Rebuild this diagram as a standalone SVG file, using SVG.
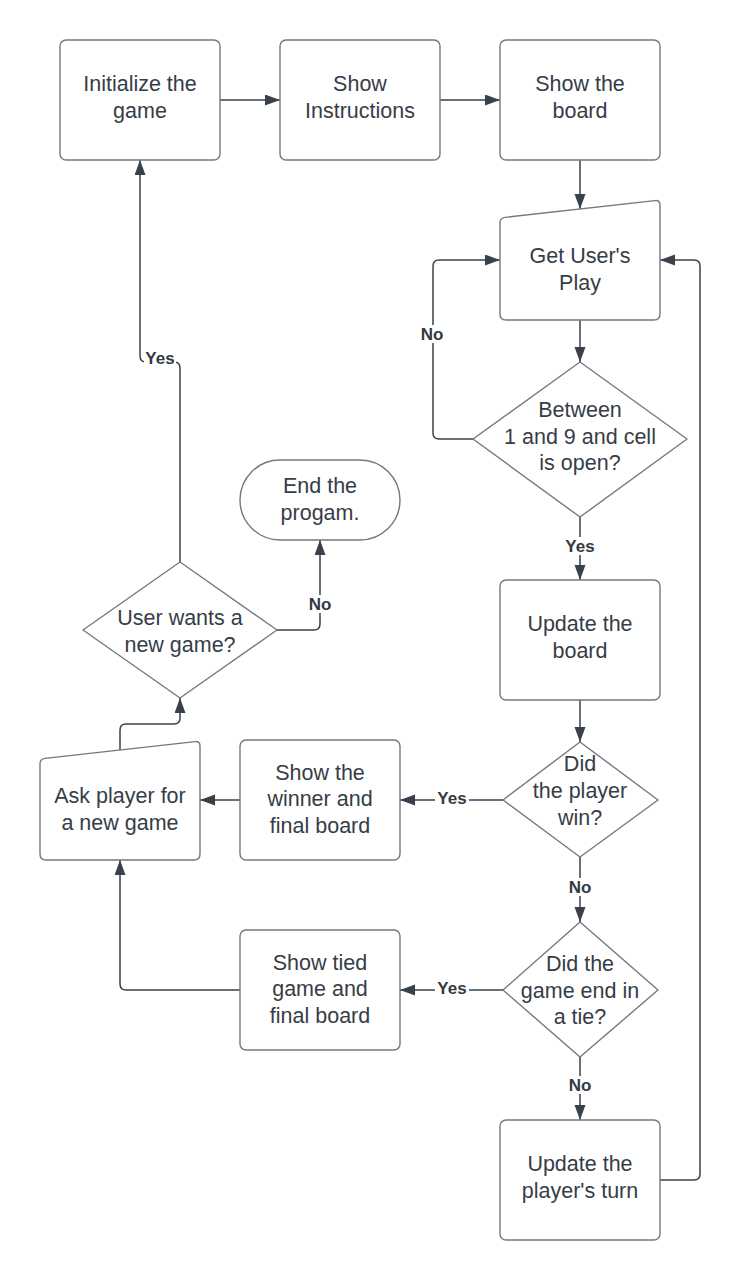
<svg xmlns="http://www.w3.org/2000/svg" width="741" height="1280" viewBox="0 0 741 1280">
<defs>
<marker id="arr" markerUnits="userSpaceOnUse" markerWidth="16" markerHeight="12" refX="15" refY="5.5" orient="auto">
<path d="M0,0 L15,5.5 L0,11 Z" fill="#3a414a"/>
</marker>
</defs>
<style>
.shape{fill:#ffffff;stroke:#75787d;stroke-width:1.4;stroke-linejoin:round}
.t{font-family:"Liberation Sans",Arial,sans-serif;font-size:21.5px;fill:#363d47;text-anchor:middle}
.c{fill:none;stroke:#3a414a;stroke-width:1.5;marker-end:url(#arr)}
.lb{font-family:"Liberation Sans",Arial,sans-serif;font-size:17px;font-weight:bold;fill:#333a44;text-anchor:middle}
.bg{fill:#ffffff}
</style>
<rect width="741" height="1280" fill="#ffffff"/>

<g id="connectors">
<path class="c" d="M220,100 H280"/>
<path class="c" d="M440,100 H500"/>
<path class="c" d="M580,160 V209"/>
<path class="c" d="M580,320 V362"/>
<path class="c" d="M473,439 H439 Q433,439 433,433 V266 Q433,260 439,260 H500"/>
<path class="c" d="M580,517 V580"/>
<path class="c" d="M580,700 V742"/>
<path class="c" d="M503,800 H400"/>
<path class="c" d="M580,857 V922"/>
<path class="c" d="M503,990 H400"/>
<path class="c" d="M580,1057 V1120"/>
<path class="c" d="M660,1180 H694 Q700,1180 700,1174 V266 Q700,260 694,260 H660"/>
<path class="c" d="M240,800 H200"/>
<path class="c" d="M240,990 H126 Q120,990 120,984 V860"/>
<path class="c" d="M120,750 V730 Q120,724 126,724 H174 Q180,724 180,718 V698"/>
<path class="c" d="M180,562 V368 Q180,362 174,362 H146 Q140,362 140,356 V160"/>
<path class="c" d="M277,630 H314 Q320,630 320,624 V540"/>
<g id="labels">
<rect class="bg" x="419" y="325" width="26" height="18"/>
<text class="lb" x="432" y="340">No</text>
<rect class="bg" x="563" y="537" width="34" height="18"/>
<text class="lb" x="580" y="552">Yes</text>
<rect class="bg" x="435" y="789" width="34" height="18"/>
<text class="lb" x="452" y="804">Yes</text>
<rect class="bg" x="567" y="878" width="26" height="18"/>
<text class="lb" x="580" y="893">No</text>
<rect class="bg" x="435" y="979" width="34" height="18"/>
<text class="lb" x="452" y="994">Yes</text>
<rect class="bg" x="567" y="1076" width="26" height="18"/>
<text class="lb" x="580" y="1091">No</text>
<rect class="bg" x="144" y="349" width="32" height="18"/>
<text class="lb" x="160" y="364">Yes</text>
<rect class="bg" x="307" y="595" width="26" height="18"/>
<text class="lb" x="320" y="610">No</text>
</g>
</g>

<g id="init">
<rect class="shape" x="60" y="40" width="160" height="120" rx="6"/>
<text class="t" x="140" y="90.5">Initialize the</text>
<text class="t" x="140" y="117.5">game</text>
</g>
<g id="instructions">
<rect class="shape" x="280" y="40" width="160" height="120" rx="6"/>
<text class="t" x="360" y="90.5">Show</text>
<text class="t" x="360" y="117.5">Instructions</text>
</g>
<g id="showboard">
<rect class="shape" x="500" y="40" width="160" height="120" rx="6"/>
<text class="t" x="580" y="90.5">Show the</text>
<text class="t" x="580" y="117.5">board</text>
</g>
<g id="getplay">
<path class="shape" d="M500,223 Q500,218 505,217.4 L655,200.6 Q660,200 660,205 V314 Q660,320 654,320 H506 Q500,320 500,314 Z"/>
<text class="t" x="580" y="262.5">Get User's</text>
<text class="t" x="580" y="289.5">Play</text>
</g>
<g id="valid">
<polygon class="shape" points="580,362 687,439 580,517 473,439"/>
<text class="t" x="580" y="416.5">Between</text>
<text class="t" x="580" y="443.5">1 and 9 and cell</text>
<text class="t" x="580" y="470">is open?</text>
</g>
<g id="updateboard">
<rect class="shape" x="500" y="580" width="160" height="120" rx="6"/>
<text class="t" x="580" y="630.5">Update the</text>
<text class="t" x="580" y="657.5">board</text>
</g>
<g id="win">
<polygon class="shape" points="580,742 658,800 580,857 503,800"/>
<text class="t" x="580" y="770.5">Did</text>
<text class="t" x="580" y="798">the player</text>
<text class="t" x="580" y="824.5">win?</text>
</g>
<g id="tie">
<polygon class="shape" points="580,922 658,990 580,1057 503,990"/>
<text class="t" x="580" y="970.5">Did the</text>
<text class="t" x="580" y="997.5">game end in</text>
<text class="t" x="580" y="1024">a tie?</text>
</g>
<g id="turn">
<rect class="shape" x="500" y="1120" width="160" height="120" rx="6"/>
<text class="t" x="580" y="1170.5">Update the</text>
<text class="t" x="580" y="1197.5">player's turn</text>
</g>
<g id="winner">
<rect class="shape" x="240" y="740" width="160" height="120" rx="6"/>
<text class="t" x="320" y="779.5">Show the</text>
<text class="t" x="320" y="806">winner and</text>
<text class="t" x="320" y="832.5">final board</text>
</g>
<g id="tied">
<rect class="shape" x="240" y="930" width="160" height="120" rx="6"/>
<text class="t" x="320" y="969.5">Show tied</text>
<text class="t" x="320" y="996">game and</text>
<text class="t" x="320" y="1022.5">final board</text>
</g>
<g id="ask">
<path class="shape" d="M40,764 Q40,759 45,758.4 L195,741.6 Q200,741 200,746 V854 Q200,860 194,860 H46 Q40,860 40,854 Z"/>
<text class="t" x="120" y="802.5">Ask player for</text>
<text class="t" x="120" y="829.5">a new game</text>
</g>
<g id="newgame">
<polygon class="shape" points="180,562 277,630 180,698 83,630"/>
<text class="t" x="180" y="624.5">User wants a</text>
<text class="t" x="180" y="651.5">new game?</text>
</g>
<g id="end">
<rect class="shape" x="240" y="460" width="160" height="80" rx="40"/>
<text class="t" x="320" y="492.5">End the</text>
<text class="t" x="320" y="519.5">progam.</text>
</g>
</svg>
